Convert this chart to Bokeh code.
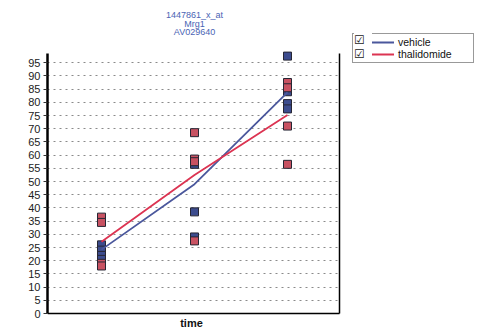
from bokeh.plotting import figure
from bokeh.models import FixedTicker, Legend, LegendItem, Range1d, Label
from bokeh.embed import file_html
from bokeh.resources import INLINE

# ---------------- data ----------------
title_lines = ["1447861_x_at", "Mrg1", "AV029640"]
series_names = ["vehicle", "thalidomide"]
time_points = [1, 2, 3]

vehicle_x = [1, 1, 1, 1, 2, 2, 2, 2, 3, 3, 3, 3]
vehicle_y = [26.0, 24.0, 22.0, 20.5, 57.5, 56.5, 38.5, 29.0, 97.5, 84.0, 79.5, 77.5]
thal_x = [1, 1, 1, 1, 2, 2, 2, 2, 3, 3, 3, 3]
thal_y = [36.5, 34.5, 19.0, 18.0, 68.5, 58.5, 57.5, 27.5, 87.5, 85.5, 71.0, 56.5]

vehicle_mean = [24.2, 49.0, 83.8]
thal_mean = [27.2, 52.5, 75.2]

y_ticks = [0, 5, 10, 15, 20, 25, 30, 35, 40, 45, 50, 55, 60, 65, 70, 75, 80, 85, 90, 95]
x_label = "time"
check_marks = ["\u2611", "\u2611"]

# ---------------- style / layout ----------------
BLUE_LINE = "#4a579c"
RED_LINE = "#dc3452"
BLUE_FILL = "#3c4c8e"
RED_FILL = "#c85262"
EDGE = "#262633"
FONT = "Liberation Sans"

W, H = 481, 329
BL = 47
FW, FH = W - BL, H               # frame spans everything right of the y axis
ZERO_PX = 313                    # image row of the value 0
PX_X = 93.0                      # pixels per time step
PX_Y = 2.64                      # pixels per unit
X0 = 1 - 54 / PX_X               # left end of the plot area
XR = X0 + 292 / PX_X             # right end of the plotted area
YT = (ZERO_PX - 53) / PX_Y       # top of the plotted area
YB = -(H - ZERO_PX) / PX_Y       # frame bottom (below the x axis)

p = figure(width=W, height=H, output_backend="svg", toolbar_location=None,
           x_range=Range1d(X0, X0 + FW / PX_X),
           y_range=Range1d(YB, YB + FH / PX_Y),
           min_border_left=BL, min_border_right=0, min_border_top=0,
           min_border_bottom=0)
p.title.visible = False
p.outline_line_color = None

yax = p.yaxis[0]
yax.ticker = FixedTicker(ticks=y_ticks)
yax.bounds = (0, YT)
yax.axis_line_width = 2.5
yax.axis_line_color = "black"
yax.major_tick_out = 4
yax.major_tick_in = 0
yax.minor_tick_out = 0
yax.minor_tick_in = 0
yax.major_tick_line_color = "#333333"
yax.major_label_text_font = FONT
yax.major_label_text_font_size = "11px"
yax.major_label_text_color = "#222222"
yax.major_label_standoff = 3

xax = p.xaxis[0]
xax.ticker = FixedTicker(ticks=[])
xax.fixed_location = 0
xax.bounds = (X0, XR)
xax.axis_line_width = 1.5
xax.axis_line_color = "black"
xax.major_tick_out = 0
xax.major_tick_in = 0
xax.minor_tick_out = 0
xax.minor_tick_in = 0

p.xgrid.visible = False
p.ygrid.cross_bounds = (X0, XR)
p.ygrid.ticker = FixedTicker(ticks=y_ticks)
p.ygrid.grid_line_color = "#8a8a8a"
p.ygrid.grid_line_dash = "2 4"
p.ygrid.grid_line_width = 1

# right border of the plotted area
p.segment(x0=[XR], y0=[0], x1=[XR], y1=[YT], line_color="black", line_width=1.5)

p.scatter(vehicle_x, vehicle_y, marker="square", size=8,
          fill_color=BLUE_FILL, line_color=EDGE, line_width=1)
p.scatter(thal_x, thal_y, marker="square", size=8,
          fill_color=RED_FILL, line_color=EDGE, line_width=1)

lv = p.line(time_points, vehicle_mean, line_color=BLUE_LINE, line_width=1.8)
lt = p.line(time_points, thal_mean, line_color=RED_LINE, line_width=1.8)
ghost = p.line([], [], line_alpha=0)

cx = 292 / 2 + 1

# x axis title
p.add_layout(Label(x=cx - 3, y=H - 322, x_units="screen", y_units="screen",
                   text=x_label, text_align="center", text_baseline="middle",
                   text_font=FONT, text_font_size="11px", text_font_style="bold",
                   text_color="#111111"))

# chart title (three centred lines above the plotted area)
for txt, y_img in zip(title_lines, [14, 23, 31]):
    p.add_layout(Label(x=cx, y=H - y_img, x_units="screen", y_units="screen",
                       text=txt, text_align="center", text_baseline="middle",
                       text_font=FONT, text_font_size="9px",
                       text_color="#4a64b4"))

# legend with box
legend = Legend(items=[LegendItem(label=series_names[0], renderers=[lv]),
                       LegendItem(label=series_names[1], renderers=[lt])],
                location=(352 - BL, H - 63),
                padding=2, margin=0, spacing=0,
                glyph_width=39, glyph_height=12, label_height=12, label_width=73,
                label_standoff=4, border_line_color="#333333",
                border_line_width=1.5, background_fill_color="white",
                background_fill_alpha=1,
                label_text_font=FONT, label_text_font_size="10.5px",
                label_text_color="#111111")
p.add_layout(legend)

checks = Legend(items=[LegendItem(label=check_marks[0], renderers=[ghost]),
                       LegendItem(label=check_marks[1], renderers=[ghost])],
                location=(354 - BL, H - 61),
                padding=0, margin=0, spacing=0,
                glyph_width=0, glyph_height=12, label_height=12, label_width=18,
                label_standoff=0, border_line_color=None,
                background_fill_color="white", background_fill_alpha=1,
                label_text_font="DejaVu Sans", label_text_font_size="12px",
                label_text_color="#222222")
p.add_layout(checks)

open("out.html", "w").write(file_html(p, INLINE))
